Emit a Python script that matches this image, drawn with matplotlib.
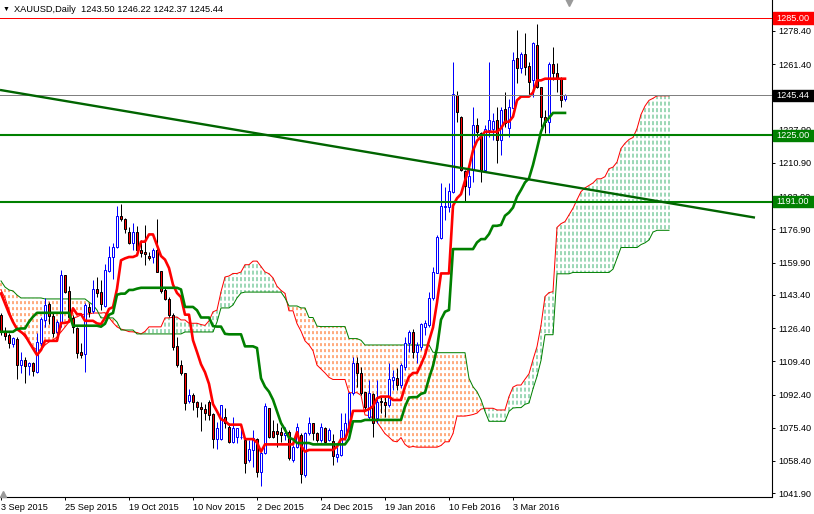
import numpy as np
import pandas as pd
import matplotlib
matplotlib.use('Agg')
import matplotlib.pyplot as plt
from matplotlib.patches import Rectangle
from matplotlib.transforms import blended_transform_factory

# daily XAUUSD bars, 3 Sep 2015 .. 22 Mar 2016
open_ = [1133.1, 1124.5, 1122.8, 1118.0, 1120.8, 1107.5, 1110.0, 1107.1, 1108.7, 1103.7,
         1118.6, 1130.5, 1138.7, 1132.7, 1124.5, 1129.1, 1153.3, 1145.3, 1131.7, 1126.2,
         1114.3, 1113.1, 1137.3, 1135.3, 1146.2, 1144.6, 1137.8, 1155.6, 1162.6, 1167.7,
         1183.7, 1182.0, 1175.4, 1169.7, 1175.4, 1166.3, 1165.5, 1163.3, 1162.6, 1166.3,
         1155.8, 1145.9, 1141.1, 1133.1, 1117.2, 1107.5, 1103.2, 1089.1, 1092.2, 1088.8,
         1085.9, 1084.8, 1088.8, 1082.4, 1069.5, 1069.5, 1081.1, 1076.0, 1068.3, 1070.5,
         1070.5, 1069.2, 1058.9, 1064.0, 1069.5, 1052.9, 1062.3, 1085.4, 1073.9, 1073.9,
         1073.4, 1071.7, 1073.4, 1058.9, 1065.7, 1071.7, 1051.3, 1072.6, 1077.7, 1072.6,
         1069.2, 1075.1, 1069.2, 1068.6, 1060.6, 1061.5, 1070.9, 1074.3, 1093.0, 1108.3,
         1103.3, 1093.9, 1081.1, 1092.5, 1080.2, 1089.3, 1088.8, 1087.1, 1099.9, 1100.7,
         1097.3, 1106.7, 1118.9, 1124.6, 1114.3, 1116.9, 1127.1, 1128.0, 1141.6, 1154.7,
         1172.3, 1188.5, 1188.5, 1196.2, 1245.6, 1234.5, 1206.5, 1198.7, 1207.2, 1230.3,
         1226.0, 1207.2, 1227.7, 1228.0, 1232.8, 1222.6, 1238.3, 1228.6, 1238.8, 1264.4,
         1259.2, 1266.6, 1260.5, 1253.3, 1271.2, 1249.5, 1234.5, 1232.0, 1261.3, 1257.0,
         1254.1, 1243.50]
high = [1133.9, 1127.1, 1123.7, 1122.0, 1122.0, 1114.3, 1111.7, 1109.2, 1109.2, 1124.0,
        1132.2, 1141.6, 1139.9, 1134.2, 1130.5, 1156.1, 1153.5, 1147.9, 1133.1, 1127.1,
        1118.6, 1139.4, 1139.0, 1151.0, 1152.7, 1151.0, 1159.1, 1168.3, 1170.1, 1188.8,
        1189.9, 1182.5, 1178.3, 1180.0, 1178.6, 1171.4, 1179.1, 1165.5, 1167.5, 1182.0,
        1155.8, 1147.2, 1142.1, 1133.9, 1122.0, 1110.1, 1103.2, 1095.1, 1093.4, 1089.1,
        1088.8, 1087.4, 1089.6, 1082.8, 1078.5, 1087.1, 1085.3, 1077.7, 1080.7, 1075.5,
        1076.0, 1070.0, 1069.2, 1074.3, 1070.0, 1063.2, 1088.2, 1085.4, 1079.4, 1077.7,
        1076.0, 1076.0, 1074.3, 1066.6, 1078.0, 1072.6, 1073.4, 1081.1, 1078.0, 1073.4,
        1077.7, 1076.0, 1075.5, 1072.0, 1065.7, 1082.8, 1082.8, 1093.9, 1111.8, 1111.8,
        1106.7, 1093.9, 1099.9, 1093.0, 1099.9, 1091.3, 1091.3, 1108.3, 1105.0, 1105.8,
        1108.3, 1122.0, 1125.4, 1125.8, 1119.4, 1129.2, 1130.5, 1145.0, 1157.8, 1174.0,
        1200.4, 1198.7, 1200.4, 1262.7, 1247.8, 1234.9, 1207.0, 1209.8, 1239.7, 1233.7,
        1226.9, 1230.3, 1262.6, 1236.2, 1239.7, 1239.7, 1247.3, 1243.6, 1267.8, 1278.9,
        1267.8, 1277.2, 1262.7, 1272.9, 1281.9, 1249.9, 1238.0, 1262.7, 1270.3, 1261.8,
        1255.0, 1246.22]
low = [1122.8, 1120.3, 1116.0, 1116.9, 1100.3, 1103.2, 1098.1, 1102.4, 1101.9, 1103.2,
       1116.9, 1127.1, 1128.4, 1122.0, 1122.0, 1127.1, 1144.1, 1131.3, 1123.7, 1110.9,
       1110.9, 1104.1, 1132.2, 1134.2, 1142.1, 1135.6, 1137.3, 1154.9, 1151.3, 1167.2,
       1181.3, 1174.9, 1169.2, 1166.3, 1166.3, 1162.9, 1158.7, 1161.2, 1159.5, 1155.2,
       1144.5, 1140.8, 1132.2, 1115.2, 1106.7, 1102.4, 1084.5, 1087.9, 1084.5, 1081.1,
       1073.7, 1079.4, 1079.4, 1064.9, 1064.4, 1069.2, 1075.1, 1067.5, 1067.5, 1067.5,
       1069.5, 1052.1, 1058.1, 1055.5, 1050.4, 1045.6, 1062.0, 1070.0, 1070.0, 1065.7,
       1068.3, 1069.2, 1058.9, 1058.1, 1064.9, 1047.0, 1050.4, 1071.7, 1069.2, 1068.3,
       1068.3, 1067.5, 1068.6, 1056.3, 1058.1, 1061.0, 1069.1, 1073.4, 1092.2, 1096.4,
       1092.2, 1084.5, 1079.4, 1070.9, 1077.7, 1082.8, 1081.1, 1086.2, 1094.7, 1094.7,
       1095.6, 1105.0, 1114.3, 1110.9, 1108.3, 1115.2, 1122.9, 1127.1, 1140.8, 1154.4,
       1171.8, 1181.7, 1185.9, 1195.7, 1232.0, 1206.9, 1191.0, 1194.5, 1201.3, 1224.0,
       1201.3, 1206.9, 1224.3, 1222.6, 1210.7, 1214.9, 1229.4, 1224.3, 1238.8, 1251.6,
       1257.0, 1255.9, 1245.6, 1244.8, 1249.0, 1229.4, 1226.0, 1226.0, 1253.3, 1247.3,
       1239.7, 1242.37]
close = [1125.0, 1122.5, 1118.6, 1121.1, 1107.5, 1110.0, 1107.1, 1108.7, 1104.6, 1119.1,
         1130.8, 1138.2, 1132.7, 1124.0, 1129.5, 1153.3, 1144.8, 1132.2, 1127.1, 1113.8,
         1112.8, 1138.2, 1134.8, 1146.2, 1144.5, 1138.5, 1156.1, 1162.9, 1168.0, 1183.7,
         1182.0, 1176.9, 1169.7, 1175.4, 1166.3, 1165.0, 1164.3, 1162.4, 1166.3, 1155.2,
         1145.5, 1141.1, 1133.1, 1116.9, 1107.5, 1103.2, 1087.9, 1092.2, 1088.8, 1085.9,
         1084.8, 1082.8, 1082.0, 1069.5, 1075.1, 1087.1, 1077.7, 1068.3, 1075.5, 1075.1,
         1070.8, 1057.2, 1064.6, 1070.0, 1052.9, 1062.3, 1086.5, 1070.9, 1070.9, 1072.1,
         1071.7, 1072.6, 1059.8, 1065.7, 1076.0, 1051.8, 1072.6, 1077.7, 1072.6, 1069.2,
         1076.0, 1068.3, 1074.3, 1061.0, 1062.0, 1074.3, 1077.7, 1093.0, 1108.3, 1103.6,
         1093.4, 1086.2, 1093.0, 1077.7, 1088.8, 1088.6, 1087.1, 1100.2, 1101.2, 1097.3,
         1107.5, 1118.9, 1124.6, 1114.3, 1117.7, 1128.3, 1128.8, 1141.6, 1155.3, 1173.2,
         1188.8, 1188.8, 1196.5, 1246.0, 1237.1, 1207.2, 1199.0, 1204.2, 1230.3, 1226.9,
         1207.2, 1228.1, 1232.8, 1232.5, 1222.6, 1238.0, 1231.1, 1239.3, 1263.5, 1259.2,
         1266.6, 1260.1, 1252.4, 1272.1, 1249.5, 1234.5, 1232.0, 1261.5, 1257.0, 1254.1,
         1243.1, 1245.44]

# indicator values at the left edge, where the window starts before the chart
tenkan_head = [1144.1, 1139.0, 1133.9, 1129.5, 1125.9, 1124.4, 1122.9, 1119.3]
kijun_head = [1124.5, 1124.5, 1124.5, 1124.5, 1125.9, 1126.2, 1126.2, 1129.6, 1132.2, 1134.2,
              1134.2, 1134.2, 1134.2, 1134.2, 1134.2, 1134.2, 1134.2, 1134.2, 1127.6, 1127.6,
              1127.6, 1127.6, 1127.6, 1127.6, 1127.6]
span_a_head = [1145.9, 1141.8, 1135.6, 1129.5, 1126.4, 1124.4, 1121.8, 1119.3, 1116.7, 1115.2,
               1115.2, 1117.7, 1119.3, 1120.3, 1121.8, 1124.4, 1126.9, 1129.5, 1131.6, 1132.1,
               1133.1, 1133.6, 1133.6, 1134.1, 1134.1, 1134.1]
span_b_head = ([1150.5, 1147.4, 1145.9, 1145.4, 1143.3] + [1141.8] * 6 + [1141.3] * 11 +
               [1139.7, 1138.2, 1135.6] + [1131.6] * 4 + [1129.5] + [1125.4] * 4 +
               [1123.4] * 12 + [1124.4] * 8 + [1129.5] + [1136.7] * 3 +
               [1138.2, 1141.8, 1144.3] + [1144.8] * 10 + [1141.8] + [1137.7] * 3 +
               [1136.7] * 2)

price_ticks = [1278.40, 1261.40, 1227.90, 1210.90, 1193.90, 1176.90, 1159.90,
               1143.40, 1126.40, 1109.40, 1092.40, 1075.40, 1058.40, 1041.90]
level_resist = 1285.00
level_bid = 1245.44
levels_green = [1225.00, 1191.00]
trend_x = [-0.25, 188.5]
trend_y = [1248.2, 1182.9]
holidays = ['2015-12-25', '2016-01-01']

dates = pd.bdate_range('2015-09-03', '2016-03-22', freq='C', holidays=holidays)
n = len(close)
x = np.arange(n)
o = np.array(open_); c = np.array(close)
h = pd.Series(high); l = pd.Series(low)

tenkan = ((h.rolling(9).max() + l.rolling(9).min()) / 2).to_numpy()
tenkan[:len(tenkan_head)] = tenkan_head
kijun = ((h.rolling(26).max() + l.rolling(26).min()) / 2).to_numpy()
kijun[:len(kijun_head)] = kijun_head
mid52 = ((h.rolling(52).max() + l.rolling(52).min()) / 2).to_numpy()
span_a = np.concatenate([span_a_head, (tenkan + kijun) / 2])
span_b = np.concatenate([span_b_head, mid52[51:]])
xs = np.arange(len(span_a))

plt.rcParams['font.family'] = ['Liberation Sans', 'DejaVu Sans']
fig = plt.figure(figsize=(8.14, 5.14), dpi=100)
ax = fig.add_axes([0, 17.5 / 514, 772 / 814, 496.5 / 514])
ax.set_xlim(-0.25, 192.75)
ax.set_ylim(1040.24, 1294.21)

GREEN = '#008000'
px = 0.72
unit = (1294.21 - 1040.24) / 496.5     # price per screen pixel


def hatch_path(mask, on, off):
    # short solid strokes between the spans, on a common vertical grid
    step = (on + off) * unit
    xx, yy = [], []
    for j in xs[mask]:
        lo, hi = sorted((span_a[j], span_b[j]))
        y0 = np.floor(lo / step) * step
        while y0 < hi:
            a, b = max(y0, lo), min(y0 + on * unit, hi)
            if b > a:
                xx += [j, j, np.nan]
                yy += [a, b, np.nan]
            y0 += step
    return xx, yy


cloud_up = span_a >= span_b
hx, hy = hatch_path(cloud_up, 4, 2.5)
ax.plot(hx, hy, color='#3CB371', lw=px, solid_capstyle='butt', zorder=1)
hx, hy = hatch_path(~cloud_up, 3, 3)
ax.plot(hx, hy, color='#FF5A00', lw=px, solid_capstyle='butt', zorder=1)
ax.plot(xs, span_a, color='red', lw=px, zorder=2)
ax.plot(xs, span_b, color=GREEN, lw=px, zorder=2)

# candles
bull = c >= o
ax.vlines(x[bull], np.array(low)[bull], np.array(high)[bull], color='#0000FF', lw=px, zorder=3)
ax.vlines(x[~bull], np.array(low)[~bull], np.array(high)[~bull], color='black', lw=px, zorder=3)
ax.bar(x[bull], np.abs(c - o)[bull], bottom=np.minimum(o, c)[bull], width=0.5,
       color='white', edgecolor='#0000FF', linewidth=px, zorder=3.5)
ax.bar(x[~bull], np.abs(c - o)[~bull], bottom=np.minimum(o, c)[~bull], width=0.5,
       color='#FF0000', edgecolor='black', linewidth=px, zorder=3.5)

ax.plot(x, tenkan, color='red', lw=1.9, zorder=4)
ax.plot(x, kijun, color=GREEN, lw=1.9, zorder=4)

# objects
ax.axhline(level_resist, color='red', lw=px, zorder=5)
ax.axhline(level_bid, color='#808080', lw=px, zorder=5)
for v in levels_green:
    ax.axhline(v, color=GREEN, lw=1.5, zorder=5)
ax.plot(trend_x, trend_y, color='#006400', lw=1.7, zorder=5, solid_capstyle='butt')

# axes styling
for s in ['left', 'top']:
    ax.spines[s].set_visible(False)
for s in ['right', 'bottom']:
    ax.spines[s].set_linewidth(0.8)
ax.yaxis.tick_right()
ax.set_yticks(price_ticks)
ax.set_yticklabels([f'{v:.2f}' for v in price_ticks])
tick_idx = list(range(0, n, 16))
ax.set_xticks(tick_idx)
ax.set_xticklabels([f'{dates[i].day} {dates[i]:%b %Y}' for i in tick_idx], ha='left')
ax.tick_params(axis='both', direction='out', length=2.5, width=0.7, labelsize=6.6,
               colors='black')
ax.tick_params(axis='y', pad=2)
ax.tick_params(axis='x', pad=2)

# price boxes on the scale
blend = blended_transform_factory(fig.transFigure, ax.transData)
for v, fc in [(level_resist, '#FF0000'), (level_bid, 'black'),
              (levels_green[0], GREEN), (levels_green[1], GREEN)]:
    ax.add_patch(Rectangle((773 / 814, v - 2.9), 41 / 814, 5.8, transform=blend,
                           facecolor=fc, edgecolor=fc, clip_on=False, zorder=10))
    ax.text(776.5 / 814, v, f'{v:.2f}', transform=blend, color='white', fontsize=6.6,
            va='center', ha='left', clip_on=False, zorder=11)

# chart markers
ax.plot([142], [0.995], marker='v', ms=6, color='#9A9A9A', transform=ax.get_xaxis_transform(),
        clip_on=False, zorder=6)
ax.plot([0.5], [0.006], marker='^', ms=5, color='#9A9A9A', transform=ax.get_xaxis_transform(),
        clip_on=False, zorder=6)

fig.text(3 / 814, 1 - 9 / 514, '\u25bc', fontsize=5, va='center', ha='left', color='black')
fig.text(14 / 814, 1 - 9 / 514, 'XAUUSD,Daily  1243.50 1246.22 1242.37 1245.44',
         fontsize=6.7, va='center', ha='left', color='black')

fig.savefig('out.png', dpi=100)
